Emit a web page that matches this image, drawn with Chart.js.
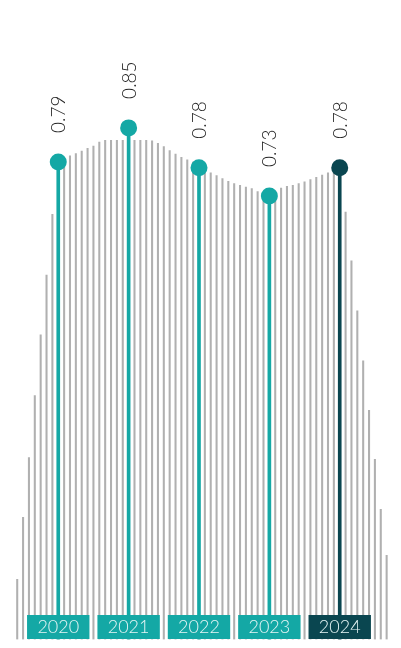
<!DOCTYPE html>
<html>
<head>
<meta charset="utf-8">
<script src="https://cdn.jsdelivr.net/npm/chart.js@4.4.1/dist/chart.umd.min.js"></script>
<style>
  html, body { margin: 0; padding: 0; background: #fff; overflow: hidden; }
  #ratio { display: block; }
</style>
</head>
<body>
<canvas id="ratio" width="401" height="648"></canvas>
<script>
// yearly values
var years = [2020, 2021, 2022, 2023, 2024];
var ratios = [0.79, 0.85, 0.78, 0.73, 0.78];
var dotColors = ["#14a8a5", "#14a8a5", "#14a8a5", "#14a8a5", "#0a4650"];

// grey monthly backdrop, starting 7 months before Jan 2020
var backdropStart = -7;
var backdrop = [
  0.056, 0.165, 0.270, 0.379, 0.486, 0.591, 0.698,
  0.791, 0.796, 0.801, 0.805, 0.809, 0.814, 0.818, 0.825, 0.828, 0.828, 0.828, 0.828,
  0.828, 0.828, 0.828, 0.828, 0.827, 0.823, 0.817, 0.810, 0.804, 0.798, 0.794, 0.790,
  0.784, 0.778, 0.771, 0.766, 0.761, 0.756, 0.752, 0.749, 0.746, 0.743, 0.738, 0.734,
  0.732, 0.739, 0.744, 0.747, 0.749, 0.752, 0.755, 0.759, 0.763, 0.767, 0.771, 0.773,
  0.777, 0.702, 0.616, 0.528, 0.440, 0.353, 0.267, 0.179, 0.098
];
var floor = -0.05;

var backdropPoints = backdrop.map(function (v, i) {
  return { x: years[0] + (backdropStart + i) / 12, y: v };
});
var yearPoints = years.map(function (yr, i) {
  return { x: yr, y: ratios[i] };
});

var valueLabels = {
  id: "valueLabels",
  afterDatasetsDraw: function (chart) {
    var ctx = chart.ctx;
    var meta = chart.getDatasetMeta(0);
    ctx.save();
    ctx.fillStyle = "#1e1e1e";
    ctx.font = "300 19px Lato";
    ctx.textAlign = "left";
    ctx.textBaseline = "middle";
    meta.data.forEach(function (pt, i) {
      ctx.save();
      ctx.translate(pt.x, pt.y - 29);
      ctx.rotate(-Math.PI / 2);
      ctx.fillText(ratios[i].toFixed(2), 0, 1);
      ctx.restore();
    });

    // year boxes along the bottom
    var xs = chart.scales.x;
    var bottom = chart.chartArea.bottom;
    ctx.textAlign = "center";
    ctx.font = "300 18px Lato";
    years.forEach(function (yr, i) {
      var x = xs.getPixelForValue(yr);
      ctx.fillStyle = dotColors[i];
      ctx.fillRect(x - 31.2, bottom - 24.5, 62.4, 24);
      ctx.fillStyle = "#e6f5f5";
      ctx.fillText(String(yr), x, bottom - 12);
    });
    ctx.restore();
  }
};

new Chart(document.getElementById("ratio").getContext("2d"), {
  type: "bar",
  data: {
    datasets: [
      {
        type: "line",
        data: yearPoints,
        showLine: false,
        pointRadius: 8.5,
        pointHoverRadius: 8.5,
        pointBorderWidth: 0,
        pointBackgroundColor: dotColors,
        order: 0
      },
      {
        data: yearPoints,
        backgroundColor: dotColors,
        barThickness: 3,
        base: floor,
        grouped: false,
        order: 1
      },
      {
        data: backdropPoints,
        backgroundColor: "#b0b0b0",
        barThickness: 1.4,
        base: floor,
        grouped: false,
        order: 2
      }
    ]
  },
  options: {
    responsive: false,
    animation: false,
    layout: { padding: { left: 9, right: 1.8, top: 0, bottom: 4.3 } },
    plugins: { legend: { display: false }, tooltip: { enabled: false } },
    scales: {
      x: { type: "linear", min: 2019.3, max: 2024.75, offset: false, display: false },
      y: { min: floor, max: 1.06, display: false }
    }
  },
  plugins: [valueLabels]
});
</script>
</body>
</html>
